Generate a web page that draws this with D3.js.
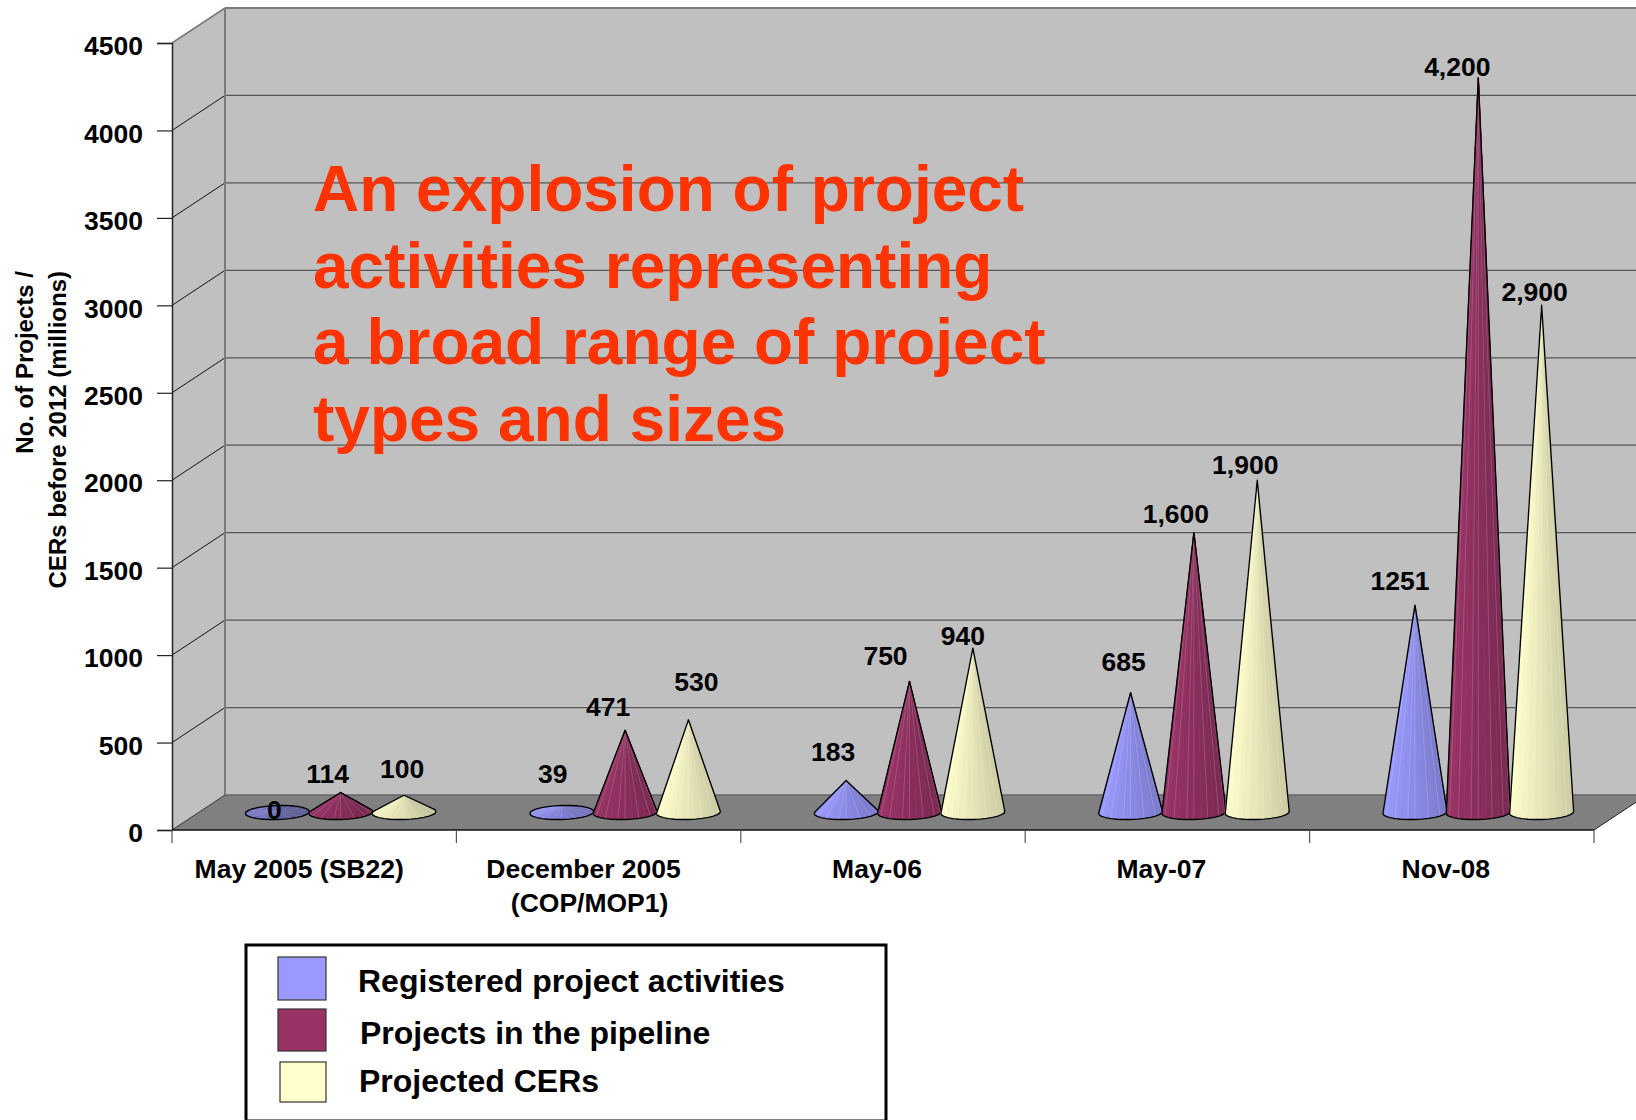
<!DOCTYPE html>
<html>
<head>
<meta charset="utf-8">
<script src="https://d3js.org/d3.v7.min.js"></script>
<style>
  body { margin: 0; background: #fff; }
  text { font-family: "Liberation Sans", Arial, sans-serif; font-weight: bold; fill: #000; }
</style>
</head>
<body>
<div id="chart"></div>
<script>
const categories = ["May 2005 (SB22)", "December 2005", "May-06", "May-07", "Nov-08"];
const yTicks = [0, 500, 1000, 1500, 2000, 2500, 3000, 3500, 4000, 4500];
const seriesNames = ["Registered project activities", "Projects in the pipeline", "Projected CERs"];
// cone heights (the 1251 cone is drawn shorter than its label)
const registered = [0, 39, 183, 685, 1186];
const pipeline = [114, 471, 750, 1600, 4200];
const projected = [100, 530, 940, 1900, 2900];
const registeredLabels = ["0", "39", "183", "685", "1251"];
const pipelineLabels = ["114", "471", "750", "1,600", "4,200"];
const projectedLabels = ["100", "530", "940", "1,900", "2,900"];
const headline = ["An explosion of project", "activities representing", "a broad range of project", "types and sizes"];

const colors = ["#9999ff", "#993366", "#ffffcc"];
const width = 1636, height = 1120;
const depthX = 53, depthY = 35;

// hand placed data labels in the original, offsets from each cone tip
const labelNudge = [
  [[-3, -3], [-9, -32], [-13, -28], [-7, -31], [-15, -24]],
  [[-13, -19], [-17, -23], [-24, -25], [-18, -19], [-21, -11]],
  [[-2, -26], [8, -38], [-10, -12], [-12, -15], [-7, -13]]
];
const catNudge = [-15, -15, -6, -6, -6];

const svg = d3.select("#chart").append("svg")
  .attr("width", width)
  .attr("height", height)
  .style("display", "block");

const x = d3.scaleBand().domain(categories).range([172, 1594]);
const y = d3.scaleLinear().domain([0, 4500]).range([830, 43]);
const offset = d3.scaleBand().domain(d3.range(3)).range([-95, 95]);

/* walls and floor */
svg.append("rect")
  .attr("x", 172 + depthX).attr("y", y(4500) - depthY)
  .attr("width", width).attr("height", y(0) - y(4500))
  .attr("fill", "#c0c0c0");
svg.append("polygon")
  .attr("points", [[172, y(4500)], [172 + depthX, y(4500) - depthY], [172 + depthX, y(0) - depthY], [172, y(0)]].join(" "))
  .attr("fill", "#c0c0c0");
svg.append("polygon")
  .attr("points", [[172, y(0)], [172 + depthX, y(0) - depthY], [1594 + depthX, y(0) - depthY], [1594, y(0)]].join(" "))
  .attr("fill", "#808080");

/* gridlines on the back wall and the side wall */
svg.selectAll(".grid").data(yTicks.slice(1, -1)).enter().append("line")
  .attr("x1", 172 + depthX).attr("x2", width)
  .attr("y1", d => y(d) - depthY).attr("y2", d => y(d) - depthY)
  .attr("stroke", "#555").attr("stroke-width", 1.2);
svg.selectAll(".diag").data(yTicks.slice(1, -1)).enter().append("line")
  .attr("x1", 172).attr("x2", 172 + depthX)
  .attr("y1", d => y(d)).attr("y2", d => y(d) - depthY)
  .attr("stroke", "#111").attr("stroke-width", 1);

svg.append("line")
  .attr("x1", 172 + depthX).attr("x2", width)
  .attr("y1", y(4500) - depthY).attr("y2", y(4500) - depthY)
  .attr("stroke", "#7a7a7a").attr("stroke-width", 2);
svg.append("line")
  .attr("x1", 172 + depthX).attr("x2", width)
  .attr("y1", y(0) - depthY).attr("y2", y(0) - depthY)
  .attr("stroke", "#666").attr("stroke-width", 1.5);
svg.append("line")
  .attr("x1", 172 + depthX).attr("x2", 172 + depthX)
  .attr("y1", y(4500) - depthY).attr("y2", y(0) - depthY)
  .attr("stroke", "#7a7a7a").attr("stroke-width", 2);
svg.append("line")
  .attr("x1", 172).attr("x2", 172 + depthX)
  .attr("y1", y(4500)).attr("y2", y(4500) - depthY)
  .attr("stroke", "#7a7a7a").attr("stroke-width", 1.5);
svg.append("line")
  .attr("x1", 172).attr("x2", 172 + depthX)
  .attr("y1", y(0)).attr("y2", y(0) - depthY)
  .attr("stroke", "#333").attr("stroke-width", 1);
svg.append("line")
  .attr("x1", 1594).attr("x2", 1594 + depthX)
  .attr("y1", y(0)).attr("y2", y(0) - depthY)
  .attr("stroke", "#222").attr("stroke-width", 1);

/* axes */
const yAxis = svg.append("g")
  .attr("transform", "translate(172,0)")
  .call(d3.axisLeft(y).tickValues(yTicks).tickFormat(d3.format("d")).tickSize(15).tickPadding(14));
yAxis.select(".domain").attr("stroke", "#222").attr("stroke-width", 1.5);
yAxis.selectAll(".tick line").attr("stroke", "#222").attr("stroke-width", 1.2);
yAxis.selectAll("text").style("font-size", "26.5px").attr("dy", "0.44em").attr("font-family", null);

svg.append("line")
  .attr("x1", 172).attr("x2", 1594).attr("y1", y(0)).attr("y2", y(0))
  .attr("stroke", "#111").attr("stroke-width", 1.5);
svg.selectAll(".xtick").data(d3.range(categories.length + 1)).enter().append("line")
  .attr("x1", d => x.range()[0] + d * x.bandwidth())
  .attr("x2", d => x.range()[0] + d * x.bandwidth())
  .attr("y1", y(0)).attr("y2", y(0) + 13)
  .attr("stroke", "#555").attr("stroke-width", 1.2);

svg.selectAll(".cat").data(categories).enter().append("text")
  .attr("x", (d, i) => x(d) + x.bandwidth() / 2 + catNudge[i])
  .attr("y", 878)
  .attr("text-anchor", "middle")
  .style("font-size", "26.5px")
  .text(d => d);
svg.append("text")
  .attr("x", x("December 2005") + x.bandwidth() / 2 - 9)
  .attr("y", 912)
  .attr("text-anchor", "middle")
  .style("font-size", "26.5px")
  .text("(COP/MOP1)");

svg.append("text")
  .attr("transform", "translate(33,271) rotate(-90)")
  .attr("text-anchor", "end")
  .style("font-size", "24px")
  .text("No. of Projects /");
svg.append("text")
  .attr("transform", "translate(66,271) rotate(-90)")
  .attr("text-anchor", "end")
  .style("font-size", "24px")
  .text("CERs before 2012 (millions)");

/* cones */
const coneDepth = 17.5, baseY = y(0) - coneDepth, rx = 32, ry = 7, facets = 28;

const drawCone = (parent, value, cx, color) => {
  const tip = [cx, y(value) - coneDepth];
  const h = baseY - tip[1];
  const flat = h <= 0 ? 0.76 : Math.min(1, 0.91 + h / 300);
  const base = d3.range(facets).map(i => {
    const a = i / facets * 2 * Math.PI;
    // the base sits slightly tilted in the picture, right side higher
    return { a, p: [cx + rx * Math.cos(a), baseY + ry * Math.sin(a) - Math.cos(a)] };
  });
  const shade = a => d3.interpolateRgb(color, "#000")((1 - flat) + 0.2 * (Math.cos(a) + 1) / 2);
  const order = d3.range(facets).sort((i, j) => Math.sin(base[i].a + Math.PI / facets) - Math.sin(base[j].a + Math.PI / facets));

  parent.append("g").selectAll("polygon").data(order).enter().append("polygon")
    .attr("points", i => [tip, base[i].p, base[(i + 1) % facets].p].join(" "))
    .attr("fill", i => shade(base[i].a + Math.PI / facets))
    .attr("stroke", (i) => i % 2 ? d3.interpolateRgb(shade(base[i].a), "#fff")(0.22) : shade(base[i].a))
    .attr("stroke-width", 0.8);

  const hull = d3.polygonHull([tip].concat(base.map(b => b.p)));
  parent.append("path")
    .attr("d", "M" + hull.join("L") + "Z")
    .attr("fill", "none")
    .attr("stroke", "#000")
    .attr("stroke-width", 1.4)
    .attr("stroke-linejoin", "round");
};

const coneX = (cat, s) => x(cat) + x.bandwidth() / 2 + depthX / 2 + offset(s) + offset.bandwidth() / 2;
const series = [registered, pipeline, projected];
const seriesLabels = [registeredLabels, pipelineLabels, projectedLabels];
const cones = svg.append("g");

categories.forEach((cat, c) => {
  series.forEach((vals, s) => drawCone(cones, vals[c], coneX(cat, s), colors[s]));
});

series.forEach((vals, s) => {
  svg.append("g").selectAll("text").data(vals).enter().append("text")
    .attr("x", (d, c) => coneX(categories[c], s) + labelNudge[s][c][0])
    .attr("y", (d, c) => y(d) - coneDepth + labelNudge[s][c][1] + 9)
    .attr("text-anchor", "middle")
    .style("font-size", "26.5px")
    .text((d, c) => seriesLabels[s][c]);
});

/* headline over the wall */
svg.append("g").selectAll("text").data(headline).enter().append("text")
  .attr("x", 313)
  .attr("y", (d, i) => 211 + i * 76.7)
  .style("font-size", "64px")
  .style("fill", "#ff3300")
  .text(d => d);

/* legend */
svg.append("rect")
  .attr("x", 246).attr("y", 945).attr("width", 640).attr("height", 176)
  .attr("fill", "#fff").attr("stroke", "#000").attr("stroke-width", 3);

const legendSwatch = [[278, 957, 48, 43], [278, 1009, 48, 42], [280, 1062, 46, 40]];
const legendText = [[358, 992], [360, 1044], [359, 1092]];
svg.append("g").selectAll("rect").data(seriesNames).enter().append("rect")
  .attr("x", (d, i) => legendSwatch[i][0])
  .attr("y", (d, i) => legendSwatch[i][1])
  .attr("width", (d, i) => legendSwatch[i][2])
  .attr("height", (d, i) => legendSwatch[i][3])
  .attr("fill", (d, i) => colors[i])
  .attr("stroke", "#333").attr("stroke-width", 1.2);
svg.append("g").selectAll("text").data(seriesNames).enter().append("text")
  .attr("x", (d, i) => legendText[i][0])
  .attr("y", (d, i) => legendText[i][1])
  .style("font-size", "32px")
  .text(d => d);
</script>
</body>
</html>
